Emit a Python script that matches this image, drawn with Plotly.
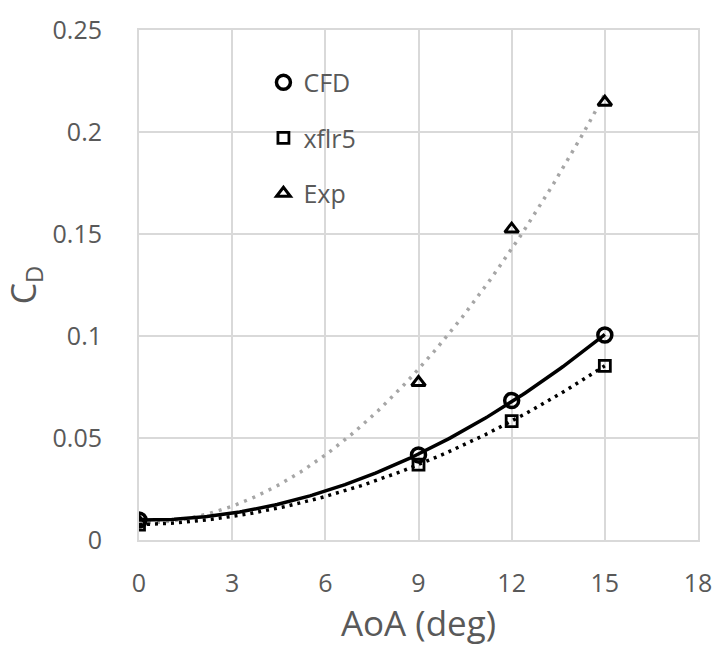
import numpy as np
import plotly.graph_objects as go

aoa = [0, 9, 12, 15]
cd_cfd = [0.0098, 0.0417, 0.0684, 0.1005]
cd_xflr5 = [0.0075, 0.0369, 0.0583, 0.0854]
cd_exp = [0.0090, 0.0772, 0.1524, 0.2146]
x_ticks = [0, 3, 6, 9, 12, 15, 18]
y_ticks = [0, 0.05, 0.1, 0.15, 0.2, 0.25]
y_tick_text = ["0", "0.05", "0.1", "0.15", "0.2", "0.25"]

FONT = "Open Sans"
TXT = "#595959"
GRID = "#d9d9d9"

xs = np.linspace(0, 15, 200)

def trend(y):
    c = np.polyfit(aoa, y, 2)
    return np.polyval(c, xs)

fig = go.Figure()
fig.add_trace(go.Scatter(x=xs, y=trend(cd_exp), mode="lines", showlegend=False,
                         line=dict(color="#a6a6a6", width=3.5, dash="3px,6px")))
fig.add_trace(go.Scatter(x=xs, y=trend(cd_xflr5), mode="lines", showlegend=False,
                         line=dict(color="black", width=3.5, dash="3px,5px")))
fig.add_trace(go.Scatter(x=xs, y=trend(cd_cfd), mode="lines", showlegend=False,
                         line=dict(color="black", width=3.5)))

fig.add_trace(go.Scatter(x=aoa, y=cd_cfd, mode="markers", name="CFD", legendgroup="a",
                         marker=dict(symbol="circle-open", size=14, color="black",
                                     line=dict(width=3.5, color="black"))))
fig.add_trace(go.Scatter(x=aoa, y=cd_xflr5, mode="markers", name="xflr5", legendgroup="b",
                         marker=dict(symbol="square-open", size=11, color="black",
                                     line=dict(width=2.8, color="black"))))
fig.add_trace(go.Scatter(x=aoa, y=cd_exp, mode="markers", name="Exp", legendgroup="c",
                         marker=dict(symbol="triangle-up-open", size=12, color="black",
                                     line=dict(width=3, color="black"))))

fig.update_layout(
    width=724, height=655,
    margin=dict(l=139, r=19, t=24, b=115),
    paper_bgcolor="white", plot_bgcolor="white",
    font=dict(family=FONT, color=TXT, size=25),
    legend=dict(x=0.2226, y=0.942, xanchor="left", yanchor="top",
                traceorder="grouped", tracegroupgap=20,
                font=dict(family=FONT, size=25, color=TXT),
                bgcolor="rgba(0,0,0,0)"),
    xaxis=dict(range=[0, 18], tickvals=x_ticks, showgrid=True, gridcolor=GRID, gridwidth=1.5,
               showline=True, mirror=True, linecolor=GRID, linewidth=2,
               ticks="outside", ticklen=20, tickcolor="rgba(0,0,0,0)",
               tickfont=dict(family=FONT, size=25, color=TXT), zeroline=False,
               title=dict(text="AoA (deg)", font=dict(family=FONT, size=35, color=TXT), standoff=12)),
    yaxis=dict(range=[0, 0.25], tickvals=y_ticks, ticktext=y_tick_text, showgrid=True,
               gridcolor=GRID, gridwidth=1.5,
               showline=True, mirror=True, linecolor=GRID, linewidth=2,
               ticks="outside", ticklen=30, tickcolor="rgba(0,0,0,0)",
               tickfont=dict(family=FONT, size=25, color=TXT), zeroline=False,
               title=dict(text="C<sub>D</sub>", font=dict(family=FONT, size=34, color=TXT), standoff=10)),
)

fig.write_html("out.html")
